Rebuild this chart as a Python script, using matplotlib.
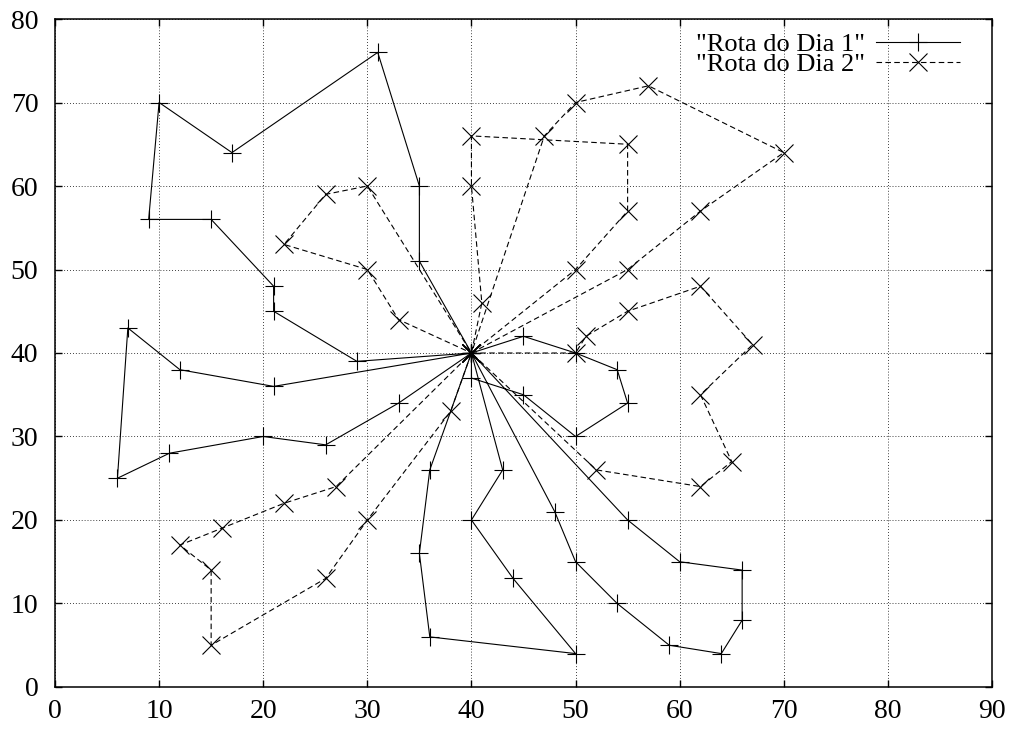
import matplotlib

matplotlib.use("Agg")
import matplotlib.pyplot as plt

# depot shared by every route
depot = (40, 40)

# day 1 routes (solid, "+")
day1_routes = [
    ([35, 35, 31, 17, 10, 9, 15, 21, 21, 29], [51, 60, 76, 64, 70, 56, 56, 48, 45, 39]),
    ([21, 12, 7, 6, 11, 20, 26, 33], [36, 38, 43, 25, 28, 30, 29, 34]),
    ([40, 45, 50, 55, 54, 50, 45], [37, 35, 30, 34, 38, 40, 42]),
    ([55, 60, 66, 66, 64, 59, 54, 50, 48], [20, 15, 14, 8, 4, 5, 10, 15, 21]),
    ([43, 40, 44, 50, 36, 35, 36], [26, 20, 13, 4, 6, 16, 26]),
]

# day 2 routes (dashed, "x")
day2_routes = [
    ([50, 51, 55, 62, 67, 62, 65, 62, 52], [40, 42, 45, 48, 41, 35, 27, 24, 26]),
    ([41, 40, 40, 55, 55, 50], [46, 60, 66, 65, 57, 50]),
    ([47, 50, 57, 70, 62, 55], [66, 70, 72, 64, 57, 50]),
    ([30, 26, 22, 30, 33], [60, 59, 53, 50, 44]),
    ([27, 22, 16, 12, 15, 15, 26, 30, 38], [24, 22, 19, 17, 14, 5, 13, 20, 33]),
]


def chain(routes):
    xs, ys = [depot[0]], [depot[1]]
    for rx, ry in routes:
        xs += list(rx) + [depot[0]]
        ys += list(ry) + [depot[1]]
    return xs, ys


plt.rcParams["font.family"] = ["Liberation Serif", "DejaVu Serif"]

fig = plt.figure(figsize=(10.16, 7.31), dpi=100)
ax = fig.add_axes([0.0541, 0.0602, 0.9223, 0.9138])

x1, y1 = chain(day1_routes)
x2, y2 = chain(day2_routes)

ax.plot(x1, y1, color="black", lw=0.8, marker="+", ms=13, mew=0.8,
        label='"Rota do Dia 1"')
ax.plot(x2, y2, color="black", lw=0.8, ls=(0, (5, 3)), marker="x", ms=13,
        mew=0.8, label='"Rota do Dia 2"')

ax.set_xlim(0, 90)
ax.set_ylim(0, 80)
ax.set_xticks(range(0, 91, 10))
ax.set_yticks(range(0, 81, 10))
ax.grid(True, color="black", lw=0.6, ls=(0, (1, 2.5)))
ax.tick_params(direction="in", length=5, width=1, top=True, right=True,
               labelsize=20)
ax.tick_params(axis="y", pad=12)
ax.tick_params(axis="x", pad=9)
for s in ax.spines.values():
    s.set_linewidth(1.1)

ax.legend(loc="upper right", bbox_to_anchor=(0.966, 0.98), frameon=False,
          markerfirst=False, fontsize=19, handlelength=3.2,
          handletextpad=0.4, labelspacing=-0.12, borderaxespad=0,
          borderpad=0)

fig.savefig("out.png", dpi=100)
